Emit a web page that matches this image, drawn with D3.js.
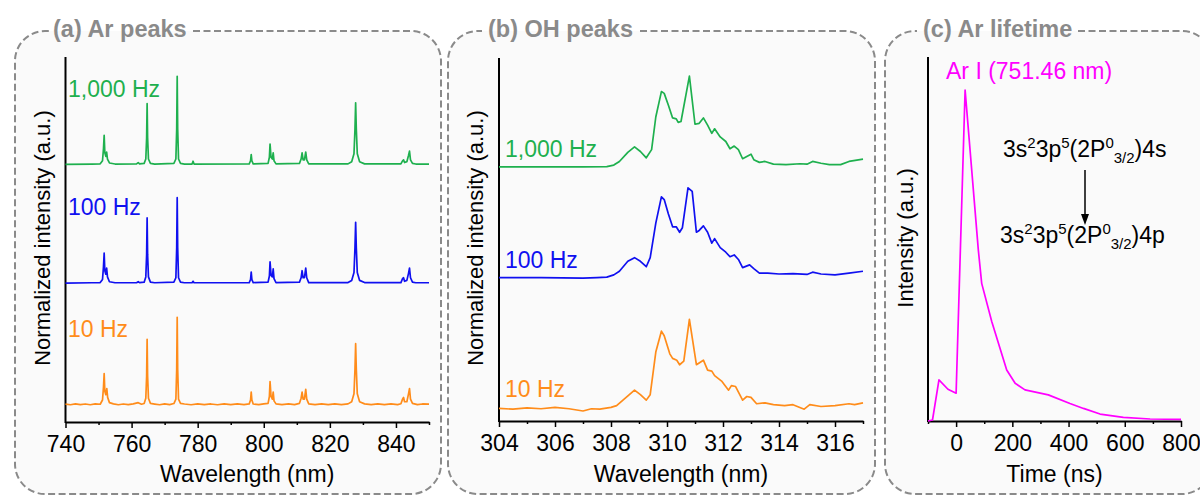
<!DOCTYPE html>
<html>
<head>
<meta charset="utf-8">
<script src="https://cdn.jsdelivr.net/npm/d3@7"></script>
<style>
  body { margin: 0; background: #fff; }
  svg { display: block; font-family: "Liberation Sans", Arial, sans-serif; }
</style>
</head>
<body>
<svg id="chart" width="1200" height="495"></svg>
<script>
// ---- data ----
// (a) Ar emission spectra, normalized, [wavelength nm, intensity]
const arTicks = [740, 760, 780, 800, 820, 840];
const ar1000 = [[740,0],[748,0.003],[750.5,0.005],[751.2,0.04],[751.5,0.18],[751.7,0.33],[751.9,0.13],[752.2,0.09],[752.45,0.14],[752.7,0.06],[753.3,0.015],[755,0.003],[761.5,0.005],[762,0.02],[762.4,0.004],[763.8,0.01],[764.3,0.06],[764.55,0.3],[764.7,0.69],[764.85,0.3],[765.1,0.06],[765.7,0.01],[767,0.003],[772.8,0.01],[773.4,0.06],[773.65,0.4],[773.8,1.0],[773.95,0.4],[774.2,0.06],[774.8,0.01],[776,0.003],[778.3,0.003],[778.6,0.035],[778.9,0.003],[795.6,0.005],[796,0.04],[796.2,0.11],[796.4,0.04],[796.8,0.005],[801.3,0.01],[801.7,0.08],[801.9,0.23],[802.2,0.08],[802.6,0.06],[802.85,0.13],[803.1,0.04],[803.7,0.005],[810.8,0.01],[811.3,0.06],[811.6,0.13],[811.9,0.05],[812.3,0.05],[812.7,0.14],[813,0.05],[813.6,0.005],[825.5,0.005],[826.6,0.03],[827.3,0.12],[827.6,0.4],[827.8,0.70],[828,0.4],[828.3,0.12],[829,0.03],[830.5,0.005],[841.5,0.005],[842,0.04],[842.3,0.05],[842.6,0.02],[843.3,0.03],[843.8,0.1],[844.1,0.15],[844.4,0.05],[845,0.01],[846,0.003],[850,0.003]];
const ar100 = [[740,0],[748,0.003],[750.5,0.005],[751.2,0.04],[751.5,0.19],[751.7,0.34],[751.9,0.14],[752.2,0.1],[752.45,0.17],[752.7,0.07],[753.3,0.015],[755,0.003],[761.5,0.004],[762,0.015],[762.4,0.004],[763.8,0.01],[764.3,0.07],[764.55,0.32],[764.7,0.74],[764.85,0.32],[765.1,0.07],[765.7,0.01],[767,0.003],[772.8,0.01],[773.4,0.06],[773.65,0.4],[773.8,0.97],[773.95,0.4],[774.2,0.06],[774.8,0.01],[776,0.003],[778.3,0.003],[778.6,0.02],[778.9,0.003],[795.6,0.005],[796,0.04],[796.2,0.125],[796.4,0.04],[796.8,0.005],[801.3,0.01],[801.7,0.08],[801.9,0.24],[802.2,0.09],[802.6,0.07],[802.85,0.16],[803.1,0.05],[803.7,0.005],[810.8,0.01],[811.3,0.06],[811.6,0.14],[811.9,0.06],[812.3,0.06],[812.7,0.17],[813,0.06],[813.6,0.005],[825.5,0.005],[826.6,0.03],[827.3,0.12],[827.6,0.4],[827.8,0.69],[828,0.4],[828.3,0.12],[829,0.03],[830.5,0.005],[841.5,0.005],[842,0.05],[842.3,0.06],[842.6,0.02],[843.3,0.03],[843.8,0.11],[844.1,0.17],[844.4,0.06],[845,0.01],[846,0.003],[850,0.003]];
const ar10 = [[740,0.004],[741.5,-0.004],[743,0.006],[744.5,-0.003],[746,0.005],[747.5,-0.004],[749,0.006],[750.5,0.002],[751.2,0.05],[751.5,0.2],[751.7,0.35],[751.9,0.15],[752.2,0.11],[752.5,0.18],[752.75,0.08],[753.3,0.02],[754.5,0.006],[756,-0.004],[757.5,0.005],[759,-0.003],[760.5,0.006],[762,0.02],[763,0.002],[763.8,0.01],[764.3,0.07],[764.55,0.32],[764.7,0.74],[764.85,0.32],[765.1,0.07],[765.7,0.012],[767,0.004],[768.5,-0.004],[770,0.006],[771.5,-0.002],[772.8,0.01],[773.4,0.06],[773.65,0.4],[773.8,0.99],[773.95,0.4],[774.2,0.06],[774.8,0.012],[776,0.005],[778,-0.004],[780,0.006],[782,-0.003],[784,0.005],[786,-0.004],[788,0.006],[790,-0.003],[792,0.005],[794,-0.002],[795.6,0.006],[796,0.05],[796.2,0.14],[796.4,0.05],[796.8,0.005],[798.5,-0.003],[800,0.006],[801.3,0.012],[801.7,0.09],[801.9,0.26],[802.2,0.09],[802.6,0.06],[802.85,0.14],[803.1,0.04],[803.7,0.006],[805.5,-0.003],[807.5,0.006],[809.3,-0.002],[810.8,0.012],[811.3,0.07],[811.6,0.14],[811.9,0.06],[812.3,0.06],[812.7,0.17],[813,0.06],[813.6,0.006],[815.5,-0.003],[817.5,0.006],[819.5,-0.003],[821.5,0.005],[823.5,-0.003],[825.5,0.006],[826.6,0.03],[827.3,0.12],[827.6,0.4],[827.8,0.69],[828,0.4],[828.3,0.12],[829,0.03],[830.5,0.006],[832.5,-0.003],[834.5,0.006],[836.5,-0.003],[838.5,0.005],[840.5,-0.002],[841.5,0.008],[842,0.06],[842.3,0.08],[842.6,0.03],[843.3,0.03],[843.8,0.12],[844.1,0.18],[844.4,0.06],[845,0.012],[846.5,-0.003],[848,0.005],[850,0.003]];
const arOffsets = [2.93, 1.58, 0.2];   // 1,000 Hz, 100 Hz, 10 Hz

// (b) OH band, normalized
const ohTicks = [304, 306, 308, 310, 312, 314, 316];
const oh1000 = [[304,0],[305,0],[306,0],[307,0],[307.85,0.003],[308.1,0.02],[308.3,0.06],[308.6,0.16],[308.84,0.22],[309.05,0.17],[309.26,0.1],[309.45,0.19],[309.6,0.55],[309.8,0.83],[309.9,0.81],[310.05,0.68],[310.2,0.54],[310.33,0.53],[310.4,0.49],[310.5,0.5],[310.8,1.0],[311.0,0.47],[311.15,0.48],[311.3,0.54],[311.45,0.46],[311.6,0.37],[311.7,0.42],[311.9,0.33],[312.1,0.28],[312.25,0.2],[312.4,0.23],[312.55,0.19],[312.7,0.09],[313.0,0.14],[313.1,0.08],[313.3,0.05],[313.5,0.06],[313.8,0.03],[314.25,0.025],[314.75,0.035],[315.0,0.03],[315.2,0.06],[315.5,0.04],[315.8,0.025],[316.2,0.025],[316.5,0.06],[317,0.085]];
const oh100 = [[304,0],[305.5,0],[307,-0.005],[307.5,0],[307.85,0.005],[308.1,0.03],[308.3,0.07],[308.6,0.18],[308.84,0.22],[309.05,0.18],[309.26,0.12],[309.4,0.22],[309.6,0.6],[309.8,0.89],[309.9,0.86],[310.05,0.7],[310.2,0.56],[310.33,0.56],[310.45,0.5],[310.55,0.55],[310.75,0.99],[310.9,0.95],[311.05,0.5],[311.15,0.52],[311.3,0.57],[311.45,0.5],[311.6,0.38],[311.7,0.43],[311.9,0.33],[312.1,0.28],[312.25,0.23],[312.4,0.25],[312.55,0.2],[312.7,0.11],[312.95,0.14],[313.1,0.1],[313.3,0.05],[313.6,0.05],[314,0.04],[314.5,0.045],[315,0.035],[315.2,0.06],[315.5,0.04],[316,0.03],[316.5,0.05],[317,0.07]];
const oh10 = [[304,0],[304.5,-0.01],[305,0.005],[305.5,-0.005],[306,0.01],[306.5,-0.005],[307,-0.03],[307.3,-0.005],[307.6,-0.01],[308,0.01],[308.2,0.03],[308.5,0.11],[308.84,0.2],[309.05,0.15],[309.26,0.09],[309.4,0.15],[309.6,0.62],[309.8,0.85],[309.9,0.8],[310.1,0.6],[310.2,0.55],[310.35,0.53],[310.45,0.48],[310.6,0.52],[310.8,0.98],[311.05,0.48],[311.3,0.53],[311.45,0.42],[311.6,0.41],[311.7,0.36],[311.95,0.3],[312.05,0.26],[312.2,0.2],[312.3,0.25],[312.45,0.24],[312.7,0.09],[312.85,0.13],[313,0.12],[313.2,0.05],[313.5,0.06],[313.8,0.04],[314.2,0.03],[314.5,0.04],[314.9,-0.01],[315.1,0.04],[315.5,0.02],[316,0.03],[316.5,0.05],[316.7,0.04],[317,0.06]];
const ohOffsets = [2.8, 1.58, 0.14];

// (c) Ar I 751.46 nm time trace, [time ns, intensity]
const timeTicks = [0, 200, 400, 600, 800];
const lifetime = [[-100,0],[-84,0.003],[-61,0.124],[-29,0.096],[0,0.084],[32,1.0],[79,0.517],[91,0.416],[127,0.3],[180,0.154],[210,0.114],[245,0.094],[328,0.079],[405,0.053],[453,0.038],[512,0.021],[595,0.011],[690,0.006],[800,0.005]];

const freqLabels = ["1,000 Hz", "100 Hz", "10 Hz"];
const freqColors = ["#1eb04e", "#1010f0", "#ff8c1a"];

// ---- drawing ----
const svg = d3.select("#chart");
const font = 23;

// dashed rounded frame with a gap for the title
function frame(x0, y0, x1, y1, r, gapA, gapB, title, titleX) {
  svg.append("rect")
    .attr("x", x0).attr("y", y0)
    .attr("width", x1 - x0).attr("height", y1 - y0)
    .attr("rx", r)
    .attr("fill", "#fafafa");
  const p = d3.path();
  p.moveTo(gapB, y0);
  p.lineTo(x1 - r, y0);
  p.arcTo(x1, y0, x1, y0 + r, r);
  p.lineTo(x1, y1 - r);
  p.arcTo(x1, y1, x1 - r, y1, r);
  p.lineTo(x0 + r, y1);
  p.arcTo(x0, y1, x0, y1 - r, r);
  p.lineTo(x0, y0 + r);
  p.arcTo(x0, y0, x0 + r, y0, r);
  p.lineTo(gapA, y0);
  svg.append("path")
    .attr("d", p.toString())
    .attr("fill", "none")
    .attr("stroke", "#8a8a8a")
    .attr("stroke-width", 2)
    .attr("stroke-dasharray", "7,3.5");
  svg.append("text")
    .attr("x", titleX).attr("y", y0 + 6)
    .attr("font-size", 23.5)
    .attr("font-weight", "bold")
    .attr("fill", "#8a8a8a")
    .text(title);
}

frame(15, 31, 441, 494, 30, 49, 193, "(a) Ar peaks", 53);
frame(448, 31, 875, 494, 30, 482, 640, "(b) OH peaks", 488);
frame(885, 31, 1212, 494, 30, 917, 1078, "(c) Ar lifetime", 923);

function axes(x, y, majors, step, xTitle, yTitle, yTitleX) {
  const [xa, xb] = x.range();
  const yb = y.range()[0], yt = y.range()[1];
  const minors = d3.range(x.domain()[0], x.domain()[1] + step / 2, step)
    .filter(v => !majors.includes(v));

  svg.append("g")
    .attr("transform", `translate(0,${yb})`)
    .call(d3.axisBottom(x).tickValues(minors).tickSize(3).tickSizeOuter(0).tickFormat(""))
    .call(g => g.select(".domain").remove())
    .call(g => g.selectAll("line").attr("stroke-width", 1.5));

  const ax = svg.append("g")
    .attr("transform", `translate(0,${yb})`)
    .call(d3.axisBottom(x).tickValues(majors).tickSize(6).tickSizeOuter(0).tickPadding(8));
  ax.select(".domain").attr("stroke-width", 2);
  ax.selectAll("line").attr("stroke-width", 1.5);
  ax.selectAll("text")
    .attr("font-size", font)
    .attr("font-family", "Liberation Sans, Arial, sans-serif")
    .attr("fill", "#000");

  svg.append("line")
    .attr("x1", xa).attr("x2", xa)
    .attr("y1", yt).attr("y2", yb + 1)
    .attr("stroke", "#000").attr("stroke-width", 2);

  svg.append("text")
    .attr("x", (xa + xb) / 2).attr("y", 482)
    .attr("text-anchor", "middle")
    .attr("font-size", font)
    .text(xTitle);

  svg.append("text")
    .attr("transform", `translate(${yTitleX},238) rotate(-90)`)
    .attr("text-anchor", "middle")
    .attr("font-size", 22)
    .text(yTitle);
}

function spectrum(s, x, y, offset, color) {
  svg.append("path")
    .datum(s)
    .attr("fill", "none")
    .attr("stroke", color)
    .attr("stroke-width", 1.7)
    .attr("stroke-linejoin", "round")
    .attr("d", d3.line().x(d => x(d[0])).y(d => y(d[1] + offset)));
}

// (a)
const xA = d3.scaleLinear().domain([740, 850]).range([65.5, 429]);
const yA = d3.scaleLinear().domain([0, 4.15]).range([422, 57]);
axes(xA, yA, arTicks, 10, "Wavelength (nm)", "Normalized intensity (a.u.)", 50);
[ar1000, ar100, ar10].forEach((s, i) => spectrum(s, xA, yA, arOffsets[i], freqColors[i]));
[97, 215, 337].forEach((yy, i) => {
  svg.append("text").attr("x", 68).attr("y", yy)
    .attr("font-size", font).attr("fill", freqColors[i]).text(freqLabels[i]);
});

// (b)
const xB = d3.scaleLinear().domain([304, 317]).range([499, 863]);
const yB = d3.scaleLinear().domain([0, 4.0]).range([421, 58]);
axes(xB, yB, ohTicks, 1, "Wavelength (nm)", "Normalized intensity (a.u.)", 483);
[oh1000, oh100, oh10].forEach((s, i) => spectrum(s, xB, yB, ohOffsets[i], freqColors[i]));
[157, 268, 397].forEach((yy, i) => {
  svg.append("text").attr("x", 505).attr("y", yy)
    .attr("font-size", font).attr("fill", freqColors[i]).text(freqLabels[i]);
});

// (c)
const xC = d3.scaleLinear().domain([-100, 800]).range([928, 1181]);
const yC = d3.scaleLinear().domain([0, 1.1]).range([421, 57]);
axes(xC, yC, timeTicks, 100, "Time (ns)", "Intensity (a.u.)", 913);
spectrum(lifetime, xC, yC, 0, "#ff00ff");

svg.append("text").attr("x", 946).attr("y", 79)
  .attr("font-size", font).attr("fill", "#ff00ff").text("Ar I (751.46 nm)");

// term symbols
function term(x, y, last) {
  const t = svg.append("text").attr("x", x).attr("y", y).attr("font-size", font);
  t.append("tspan").text("3s");
  t.append("tspan").attr("font-size", 15).attr("dy", -9).text("2");
  t.append("tspan").attr("dy", 9).text("3p");
  t.append("tspan").attr("font-size", 15).attr("dy", -9).text("5");
  t.append("tspan").attr("dy", 9).text("(2P");
  t.append("tspan").attr("font-size", 15).attr("dy", -9).text("0");
  t.append("tspan").attr("font-size", 15).attr("dy", 15).text("3/2");
  t.append("tspan").attr("dy", -6).text(")" + last);
}
term(1003, 157, "4s");
term(1000, 243, "4p");

svg.append("line")
  .attr("x1", 1085).attr("x2", 1085)
  .attr("y1", 170).attr("y2", 216)
  .attr("stroke", "#000").attr("stroke-width", 1.5);
svg.append("path")
  .attr("d", "M1081,214 L1089,214 L1085,225 Z")
  .attr("fill", "#000");
</script>
</body>
</html>
